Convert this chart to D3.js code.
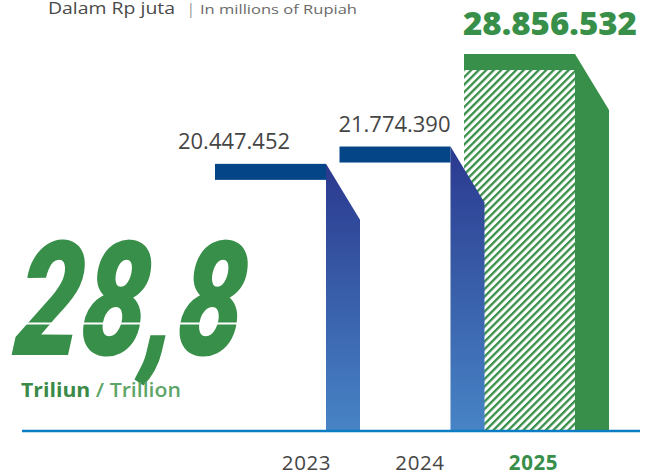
<!DOCTYPE html>
<html>
<head>
<meta charset="utf-8">
<script src="https://cdn.jsdelivr.net/npm/d3@7"></script>
<style>
  html, body { margin: 0; padding: 0; background: #fff; }
  svg { display: block; }
</style>
</head>
<body>
<svg id="chart" width="652" height="475"></svg>
<script>
// Data: assets in millions of Rupiah
const years = ["2023", "2024", "2025"];
const values = [20447452, 21774390, 28856532];
const valueLabels = ["20.447.452", "21.774.390", "28.856.532"];
const highlightYear = "2025";
const headline = "28,8";

const W = 652, H = 475;
const baseY = 431;
const sideW = 34;     // width of the 3D side face
const slant = 56;     // vertical drop of the slanted side top
const capH = 16;      // height of the top cap

const blue = "#034587", green = "#388f49", axisBlue = "#0b7dc3", grey = "#454545";
const font = "'Open Sans', sans-serif";

const svg = d3.select("#chart");
const defs = svg.append("defs");

// side face gradient for the blue bars
const grad = defs.append("linearGradient")
  .attr("id", "sideBlue").attr("x1", 0).attr("y1", 0).attr("x2", 0).attr("y2", 1);
grad.append("stop").attr("offset", "0%").attr("stop-color", "#2b398e");
grad.append("stop").attr("offset", "100%").attr("stop-color", "#4784c6");

// diagonal hatch for the highlighted bar's front
const hatch = defs.append("pattern")
  .attr("id", "hatch").attr("patternUnits", "userSpaceOnUse")
  .attr("width", 5.3).attr("height", 10)
  .attr("patternTransform", "rotate(45)");
hatch.append("rect").attr("width", 5.3).attr("height", 10).attr("fill", "#fff");
hatch.append("rect").attr("x", 0).attr("width", 2.3).attr("height", 10).attr("fill", green);

const x = d3.scaleBand().domain(years).range([215, 575]).paddingInner(0.1084).paddingOuter(0);
const y = d3.scaleLinear().domain([0, d3.max(values)]).range([baseY, 54]);

const rows = years.map((yr, i) => ({ year: yr, value: values[i], label: valueLabels[i], hi: yr === highlightYear }));

// header
svg.append("text").attr("x", 48).attr("y", 14).attr("font-family", font)
  .attr("font-size", 16.5).attr("fill", "#4a4a4a")
  .attr("textLength", 127).attr("lengthAdjust", "spacingAndGlyphs").text("Dalam Rp juta");
svg.append("text").attr("x", 187).attr("y", 14).attr("font-family", font)
  .attr("font-size", 14).attr("fill", "#888").text("|");
svg.append("text").attr("x", 200).attr("y", 14).attr("font-family", font)
  .attr("font-size", 13.5).attr("fill", "#6a6a6a")
  .attr("textLength", 157).attr("lengthAdjust", "spacingAndGlyphs").text("In millions of Rupiah");

// bars, drawn right to left so earlier side faces overlap later fronts
const bw = x.bandwidth();
const g = svg.append("g");
rows.slice().reverse().forEach(d => {
  const x0 = x(d.year), x1 = x0 + bw, yt = y(d.value);
  if (d.hi) {
    g.append("rect").attr("x", x0).attr("y", yt).attr("width", bw).attr("height", baseY - yt)
      .attr("fill", "url(#hatch)");
  }
  g.append("path")
    .attr("d", `M${x1},${yt} L${x1 + sideW},${yt + slant} L${x1 + sideW},${baseY} L${x1},${baseY} Z`)
    .attr("fill", d.hi ? green : "url(#sideBlue)");
  g.append("rect").attr("x", x0).attr("y", yt).attr("width", bw).attr("height", capH)
    .attr("fill", d.hi ? green : blue);
});

// value labels
const labelShift = { "2023": -37, "2024": -1, "2025": -1 };
rows.forEach(d => {
  const t = svg.append("text")
    .attr("x", x(d.year) + labelShift[d.year])
    .attr("font-family", font)
    .text(d.label);
  if (d.hi) {
    t.attr("y", y(d.value) - 19).attr("font-size", 31).attr("font-weight", 800)
      .attr("fill", green).attr("textLength", 174).attr("lengthAdjust", "spacingAndGlyphs");
  } else {
    t.attr("y", y(d.value) - 15).attr("font-size", 21).attr("font-weight", 400)
      .attr("fill", grey).attr("textLength", 112).attr("lengthAdjust", "spacingAndGlyphs");
  }
});

// baseline
svg.append("line").attr("x1", 22).attr("x2", 640).attr("y1", baseY).attr("y2", baseY)
  .attr("stroke", axisBlue).attr("stroke-width", 2.4);

// year axis
const xl = d3.scalePoint().domain(years).range([306, 533]);
const axis = svg.append("g").attr("transform", `translate(0,${baseY})`)
  .call(d3.axisBottom(xl).tickSize(0).tickPadding(24));
axis.select(".domain").remove();
axis.selectAll("text")
  .attr("font-family", font).attr("font-size", 20.5)
  .attr("letter-spacing", 0.6)
  .attr("fill", d => d === highlightYear ? green : grey)
  .attr("font-weight", d => d === highlightYear ? 700 : 400)
  .attr("dy", "0.71em");

// headline figure, slanted a little further than the italic face
svg.append("text")
  .attr("transform", "translate(12,355) skewX(-6)")
  .attr("font-family", "Roboto, sans-serif").attr("font-size", 160)
  .attr("font-weight", 900).attr("font-style", "italic")
  .attr("fill", green)
  .attr("textLength", 228).attr("lengthAdjust", "spacingAndGlyphs")
  .text(headline);
svg.append("rect").attr("x", 20).attr("y", 322.5).attr("width", 240).attr("height", 2).attr("fill", "#fff");

const unit = svg.append("text").attr("x", 21).attr("y", 397)
  .attr("font-family", font).attr("font-size", 19)
  .attr("textLength", 160).attr("lengthAdjust", "spacingAndGlyphs");
unit.append("tspan").attr("font-weight", 700).attr("fill", "#3a8a48").text("Triliun");
unit.append("tspan").attr("font-weight", 600).attr("fill", "#5ea568").text(" / Trillion");
</script>
</body>
</html>
